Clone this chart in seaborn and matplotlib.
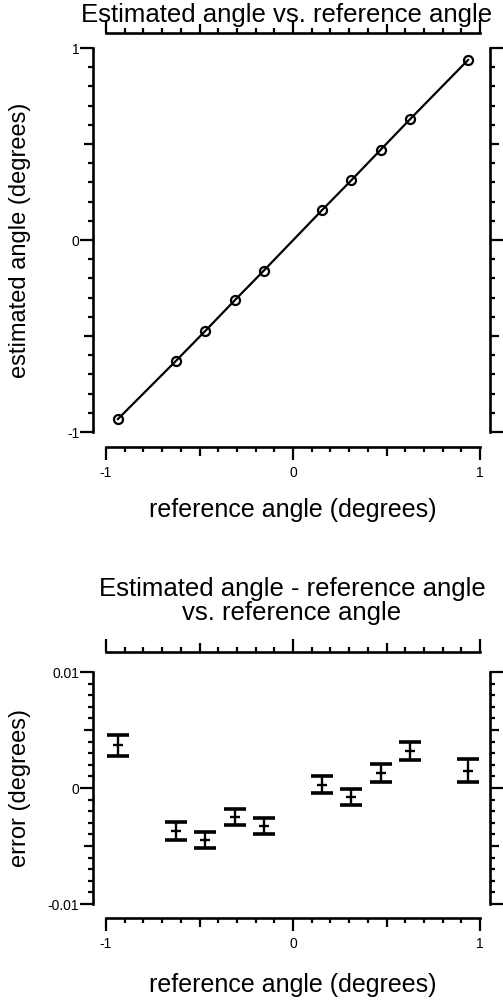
import numpy as np
import pandas as pd
import matplotlib
matplotlib.use("Agg")
import matplotlib.pyplot as plt
import seaborn as sns
from matplotlib.ticker import FixedLocator, MultipleLocator

# ---------------- data ----------------
ref_angle = [-0.9375, -0.625, -0.46875, -0.3125, -0.15625,
             0.15625, 0.3125, 0.46875, 0.625, 0.9375]
est_angle = [-0.9338, -0.6287, -0.4732, -0.3150, -0.1596,
             0.1565, 0.3117, 0.4700, 0.6282, 0.9390]
error_deg = [0.0037, -0.0037, -0.0045, -0.0025, -0.0033,
             0.0003, -0.0008, 0.0013, 0.0032, 0.0015]
error_sd = [0.0009, 0.0008, 0.0007, 0.0007, 0.0007,
            0.0007, 0.0007, 0.0008, 0.0008, 0.0010]

x_ticks = [-1, -0.5, 0, 0.5, 1]
x_ticklabels = ["-1", "", "0", "", "1"]
y1_ticks = [-1, -0.5, 0, 0.5, 1]
y1_ticklabels = ["-1", "", "0", "", "1"]
y2_ticks = [-0.01, -0.005, 0, 0.005, 0.01]
y2_ticklabels = ["-0.01", "", "0", "", "0.01"]

title1 = "Estimated angle vs. reference angle"
title2_line1 = "Estimated angle - reference angle"
title2_line2 = "vs. reference angle"
xlabel = "reference angle (degrees)"
ylabel1 = "estimated angle (degrees)"
ylabel2 = "error (degrees)"

df1 = pd.DataFrame({"ref": ref_angle, "est": est_angle})
df2 = pd.DataFrame({"ref": ref_angle, "err": error_deg, "sd": error_sd})

# ---------------- style ----------------
sns.set_theme(style="ticks")
plt.rcParams["font.family"] = ["Liberation Sans", "DejaVu Sans"]
plt.rcParams["text.color"] = "black"
plt.rcParams["axes.labelcolor"] = "black"
plt.rcParams["xtick.color"] = "black"
plt.rcParams["ytick.color"] = "black"

W, H = 503, 1001
fig = plt.figure(figsize=(W / 100, H / 100), dpi=100)
fig.patch.set_facecolor("white")


def rect(left, right, top, bottom):
    return [left / W, 1 - bottom / H, (right - left) / W, (bottom - top) / H]


def pt(px):
    return px * 72 / 100


ax1 = fig.add_axes(rect(106, 480, 48, 432))
ax2 = fig.add_axes(rect(106, 480, 672, 904))

# ---------------- top panel ----------------
sns.lineplot(data=df1, x="ref", y="est", ax=ax1, color="black", lw=1.6,
             marker="o", markersize=6.5, markerfacecolor="none",
             markeredgecolor="black", markeredgewidth=1.6)

# ---------------- bottom panel ----------------
ax2.errorbar(df2["ref"], df2["err"], yerr=df2["sd"], fmt="none",
             ecolor="black", elinewidth=1.7, capsize=pt(11), capthick=2.6)
sns.scatterplot(data=df2, x="ref", y="err", ax=ax2, marker="_", s=45,
                color="black", linewidth=1.7)


def style_axes(ax, ylim, yticks, yticklabels, yminor, offs):
    ax.set_xlim(-1, 1)
    ax.set_ylim(*ylim)
    ax.set_facecolor("white")
    for side in ["left", "right", "top", "bottom"]:
        sp = ax.spines[side]
        sp.set_visible(True)
        sp.set_color("black")
        sp.set_linewidth(1.9)
        sp.set_position(("outward", pt(offs[side])))
    ax.spines["left"].set_bounds(*ylim)
    ax.spines["right"].set_bounds(*ylim)
    ax.spines["top"].set_bounds(-1, 1)
    ax.spines["bottom"].set_bounds(-1, 1)

    ax.xaxis.set_major_locator(FixedLocator(x_ticks))
    ax.set_xticklabels(x_ticklabels)
    ax.xaxis.set_minor_locator(MultipleLocator(0.1))
    ax.yaxis.set_major_locator(FixedLocator(yticks))
    ax.set_yticklabels(yticklabels)
    ax.yaxis.set_minor_locator(MultipleLocator(yminor))

    ax.tick_params(which="both", direction="out", top=True, right=True,
                   bottom=True, left=True, labeltop=False, labelright=False,
                   color="black", labelcolor="black", width=1.6, labelsize=10)
    ax.tick_params(axis="x", which="major", pad=4)
    ax.tick_params(axis="y", which="major", pad=0.5)
    ax.tick_params(which="major", length=pt(13))
    ax.tick_params(which="minor", length=pt(5))
    for axis in (ax.xaxis, ax.yaxis):
        ticks = axis.get_major_ticks(5)
        for i in (1, 3):
            ticks[i].tick1line.set_markersize(pt(9))
            ticks[i].tick2line.set_markersize(pt(9))
    ax.grid(False)
    ax.set_xlabel("")
    ax.set_ylabel("")


style_axes(ax1, (-1, 1), y1_ticks, y1_ticklabels, 0.1,
           {"left": 13, "right": 10, "top": 15, "bottom": 15})
style_axes(ax2, (-0.01, 0.01), y2_ticks, y2_ticklabels, 0.001,
           {"left": 13, "right": 10, "top": 20, "bottom": 14})

# labels
for ax, ylab, top_px, bot_px, xlab_px in [(ax1, ylabel1, 48, 432, 510),
                                          (ax2, ylabel2, 672, 904, 985)]:
    h = bot_px - top_px
    ax.set_xlabel(xlabel, fontsize=18, color="black")
    ax.set_ylabel(ylab, fontsize=17, color="black")
    ax.xaxis.set_label_coords(0.5, -(xlab_px - bot_px) / h)
    ax.xaxis.label.set_va("center")
    ax.yaxis.set_label_coords((20 - 106) / 374, 0.5)
    ax.yaxis.label.set_va("center")
    ax.yaxis.label.set_ha("center")

fig.text(287 / W, 1 - 15 / H, title1, ha="center", va="center", fontsize=18.5,
         color="black")
fig.text(292 / W, 1 - 589 / H, title2_line1, ha="center", va="center",
         fontsize=18.5, color="black")
fig.text(292 / W, 1 - 613 / H, title2_line2, ha="center", va="center",
         fontsize=18.5, color="black")

fig.savefig("out.png", dpi=100, facecolor="white")
